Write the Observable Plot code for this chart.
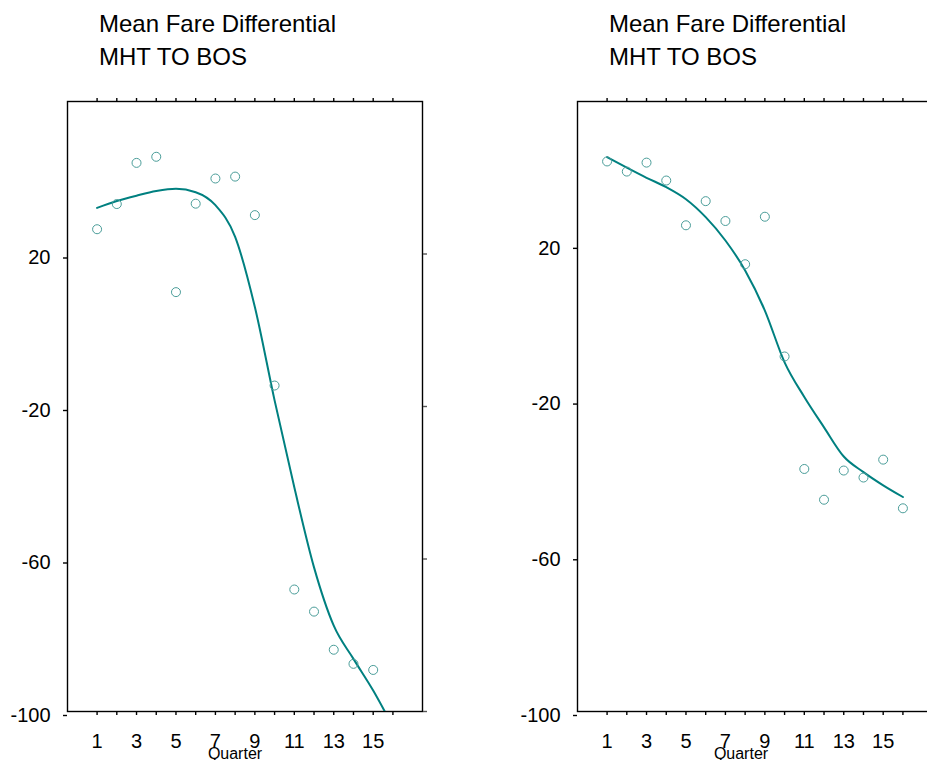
<!DOCTYPE html>
<html>
<head>
<meta charset="utf-8">
<script src="https://cdn.jsdelivr.net/npm/d3@7"></script>
<script src="https://cdn.jsdelivr.net/npm/@observablehq/plot@0.6"></script>
<style>
  html, body { margin: 0; padding: 0; background: white; }
  #wrap { position: relative; width: 927px; height: 760px; overflow: hidden; background: white;
          font-family: "Liberation Sans", Arial, sans-serif; color: black; }
  .title { position: absolute; font-size: 24px; line-height: 33px; white-space: nowrap; }
  .xlab { position: absolute; font-size: 16px; line-height: 16px; width: 100px; text-align: center; }
  .panel { position: absolute; top: 70px; width: 460px; height: 690px; }
  .panel svg { max-width: none !important; }
</style>
</head>
<body>
<div id="wrap">
  <div class="title" style="left:99px; top:7px;">Mean Fare Differential<br>MHT TO BOS</div>
  <div class="title" style="left:609px; top:7px;">Mean Fare Differential<br>MHT TO BOS</div>
  <div class="panel" id="left" style="left:0px;"></div>
  <div class="panel" id="right" style="left:510px;"></div>
  <div class="xlab" style="left:185px; top:746px;">Quarter</div>
  <div class="xlab" style="left:691px; top:746px;">Quarter</div>
</div>
<script>
// ---- data ----
const quarters = [1, 2, 3, 4, 5, 6, 7, 8, 9, 10, 11, 12, 13, 14, 15, 16];
const yTicks = [20, -20, -60, -100];

// left panel: observed means (quarters 1-15) and smoothed curve (quarters 1-16)
const leftPoints = [26.5, 33.1, 43.9, 45.5, 10.0, 33.2, 39.8, 40.3, 30.2, -14.5, -68.0, -73.8, -83.8, -87.5, -89.1];
const leftSmooth = [32.1, 33.9, 35.3, 36.5, 37.1, 36.2, 32.8, 24.5, 6.1, -18.4, -41.2, -62.2, -77.5, -86.2, -94.5, -104.0];

// right panel
const rightPoints = [41.3, 38.7, 41.0, 36.4, 24.9, 31.1, 26.0, 14.9, 27.1, -8.8, -37.7, -45.6, -38.1, -39.9, -35.3, -47.8];
const rightSmooth = [42.4, 39.7, 37.1, 34.7, 31.6, 27.0, 21.0, 13.3, 3.0, -10.3, -19.2, -27.0, -34.5, -38.5, -41.9, -44.9];

const lineColor = "#008080";
const dotColor = "#4a9d99";

function panel(points, smooth, yMax) {
  const pts = points.map((v, i) => ({q: quarters[i], v}));
  const sm = smooth.map((v, i) => ({q: quarters[i], v}));
  return Plot.plot({
    width: 460,
    height: 690,
    marginLeft: 67,
    marginRight: 38,
    marginTop: 31,
    marginBottom: 49,
    style: {fontFamily: "'Liberation Sans', Arial, sans-serif", fontSize: "20px", background: "white", color: "black", overflow: "visible", maxWidth: "none"},
    x: {domain: [-0.5, 17.5], label: null},
    y: {domain: [-100, yMax], label: null},
    marks: [
      Plot.frame({stroke: "black", strokeWidth: 1.4}),
      Plot.axisX({anchor: "top", ticks: quarters, tickSize: 4, tickFormat: () => "", label: null, strokeWidth: 1.4}),
      Plot.axisX({anchor: "bottom", ticks: quarters, tickSize: 4, tickPadding: 18, tickFormat: d => (d % 2 ? String(d) : ""), label: null, strokeWidth: 1.4, fontSize: 20}),
      Plot.axisY({anchor: "left", ticks: yTicks, tickSize: 4, tickPadding: 13, tickFormat: d => String(d), label: null, dy: 4, strokeWidth: 1.4, fontSize: 20}),
      Plot.axisY({anchor: "right", ticks: yTicks, tickSize: 4, tickFormat: () => "", label: null, stroke: "#555", strokeWidth: 1.4}),
      Plot.line(sm, {x: "q", y: "v", stroke: lineColor, strokeWidth: 2, curve: "monotone-x", clip: true}),
      Plot.dot(pts, {x: "q", y: "v", r: 4.5, stroke: dotColor, strokeWidth: 1, fill: "none", clip: true})
    ]
  });
}

document.getElementById("left").append(panel(leftPoints, leftSmooth, 60));
document.getElementById("right").append(panel(rightPoints, rightSmooth, 56.7));
</script>
</body>
</html>
